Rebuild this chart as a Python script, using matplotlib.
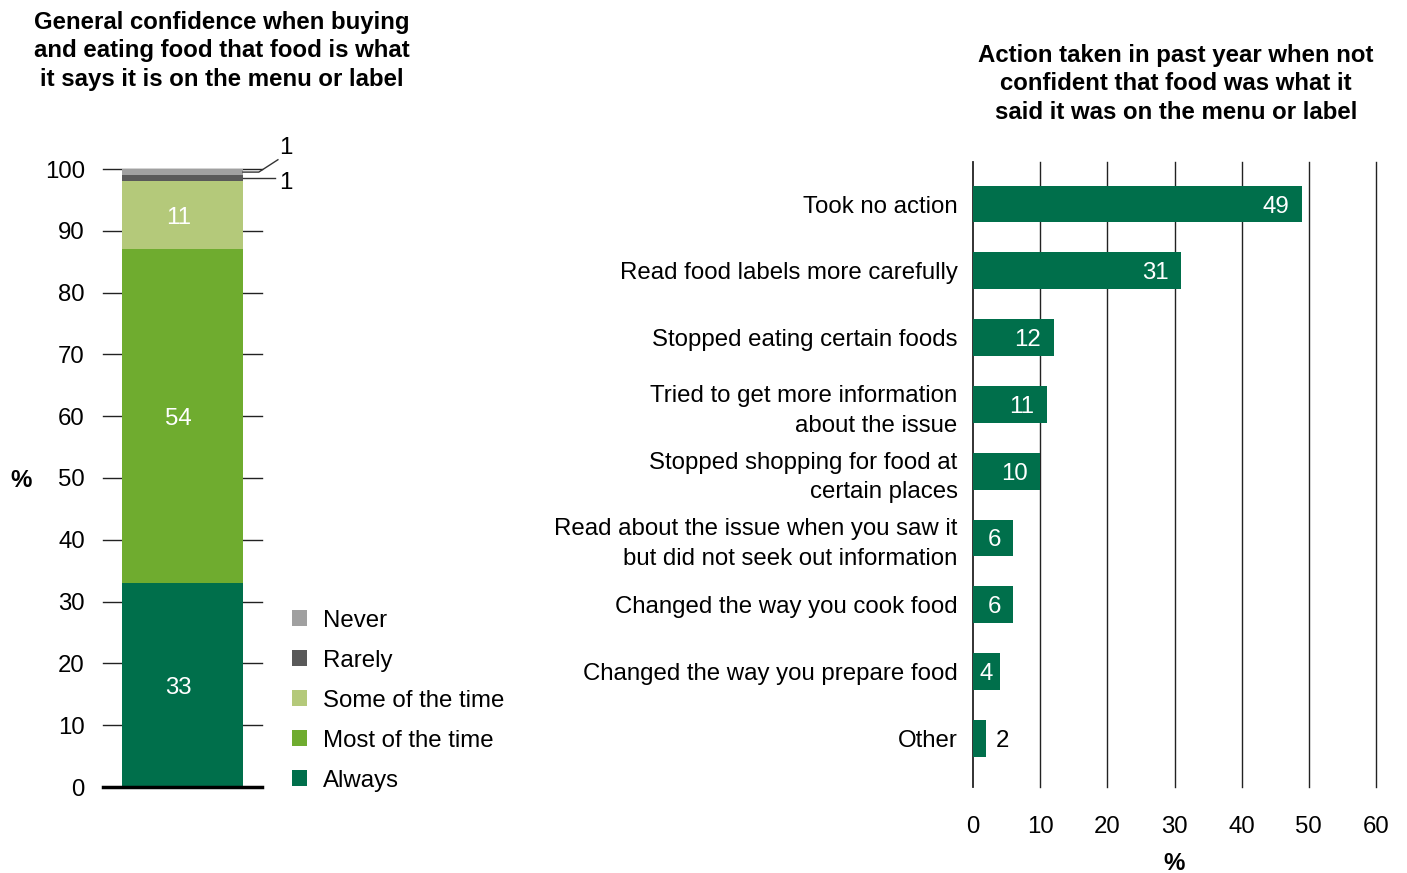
import matplotlib.pyplot as plt
from matplotlib.patches import Patch

plt.rcParams['font.family'] = ['Liberation Sans', 'DejaVu Sans']

# left chart: general confidence (stacked, bottom to top)
conf_levels = ["Always", "Most of the time", "Some of the time", "Rarely", "Never"]
conf_values = [33, 54, 11, 1, 1]
conf_colors = ["#006f4b", "#6fac2f", "#b4c97a", "#595959", "#a0a0a0"]

# right chart: actions taken
actions = ["Took no action", "Read food labels more carefully",
           "Stopped eating certain foods",
           "Tried to get more information\nabout the issue",
           "Stopped shopping for food at\ncertain places",
           "Read about the issue when you saw it\nbut did not seek out information",
           "Changed the way you cook food",
           "Changed the way you prepare food", "Other"]
action_values = [49, 31, 12, 11, 10, 6, 6, 4, 2]

green = "#006f4b"
fs = 17.3

fig = plt.figure(figsize=(14.07, 8.73), dpi=100)
W, H = 1407, 873

def px_axes(x0, x1, ytop, ybot):
    return fig.add_axes([x0 / W, 1 - ybot / H, (x1 - x0) / W, (ybot - ytop) / H])

# ---- left stacked bar
ax1 = px_axes(103, 262, 169, 787)
for y in range(10, 101, 10):
    ax1.axhline(y, color="#222222", lw=1, zorder=0, clip_on=False)
ax1.axhline(0, color="black", lw=2.5, zorder=3, clip_on=False)
bottom = 0
for lev, v, c in zip(conf_levels, conf_values, conf_colors):
    ax1.bar(0, v, width=0.761, bottom=bottom, color=c, zorder=2)
    if v > 5:
        ax1.annotate(str(v), (0, bottom + v / 2), xytext=(-3, 0),
                     textcoords="offset points", color="white", fontsize=fs,
                     ha="center", va="center_baseline")
    bottom += v
ax1.set_xlim(-0.5, 0.5)
ax1.set_ylim(0, 100)
ax1.set_yticks(range(0, 101, 10))
ax1.tick_params(axis="y", length=0, pad=13, labelsize=fs)
ax1.set_xticks([])
for s in ax1.spines.values():
    s.set_visible(False)

# leader lines for the small segments
ax1.plot([0.38, 0.48, 0.6], [99.5, 99.5, 101.5], color="#333333", lw=1,
         clip_on=False)
ax1.plot([0.38, 0.58], [98.5, 98.5], color="#333333", lw=1, clip_on=False)
ax1.text(0.61, 103.8, "1", fontsize=fs, va="center_baseline", ha="left")
ax1.text(0.61, 98.2, "1", fontsize=fs, va="center_baseline", ha="left")

fig.text(21 / W, 1 - 480 / H, "%", fontsize=fs, fontweight="bold",
         ha="center", va="center")
fig.text(222 / W, 1 - 51 / H,
         "General confidence when buying\nand eating food that food is what\nit says it is on the menu or label",
         fontsize=fs, fontweight="bold", ha="center", va="center",
         linespacing=1.33)

handles = [Patch(facecolor=c) for c in conf_colors[::-1]]
fig.legend(handles, conf_levels[::-1], loc="upper left",
           bbox_to_anchor=(282 / W, 1 - 600 / H), frameon=False,
           fontsize=fs, handlelength=0.65, handleheight=0.65,
           handletextpad=0.65, labelspacing=0.75, borderaxespad=0)

# ---- right horizontal bars
ax2 = px_axes(973, 1376, 162, 787)
ypos = list(range(len(actions)))
ax2.barh(ypos, action_values, height=0.55, color=green, zorder=2)
for y, v in zip(ypos, action_values):
    if v > 4:
        ax2.annotate(str(v), (v, y), xytext=(-9, 0), textcoords="offset points",
                     ha="right", va="center_baseline", color="white", fontsize=fs)
    elif v == 4:
        ax2.annotate(str(v), (v / 2, y), ha="center", va="center_baseline",
                     color="white", fontsize=fs)
    else:
        ax2.annotate(str(v), (v, y), xytext=(7, 0), textcoords="offset points",
                     ha="left", va="center_baseline", color="black", fontsize=fs)
ax2.set_xlim(0, 60)
ax2.set_ylim(8.73, -0.63)
ax2.set_xticks(range(0, 61, 10))
ax2.set_yticks(ypos)
ax2.set_yticklabels(actions, fontsize=fs, linespacing=1.45)
for x in range(0, 61, 10):
    ax2.axvline(x, color="#222222", lw=1.3 if x == 0 else 1, zorder=0,
                clip_on=False)
ax2.tick_params(axis="y", length=0, pad=11)
ax2.tick_params(axis="x", length=0, pad=21, labelsize=fs)
for s in ax2.spines.values():
    s.set_visible(False)
ax2.set_xlabel("%", fontsize=fs, fontweight="bold", labelpad=10)

fig.text(1176 / W, 1 - 84 / H,
         "Action taken in past year when not\nconfident that food was what it\nsaid it was on the menu or label",
         fontsize=fs, fontweight="bold", ha="center", va="center",
         linespacing=1.33)

fig.savefig("out.png", dpi=100)
